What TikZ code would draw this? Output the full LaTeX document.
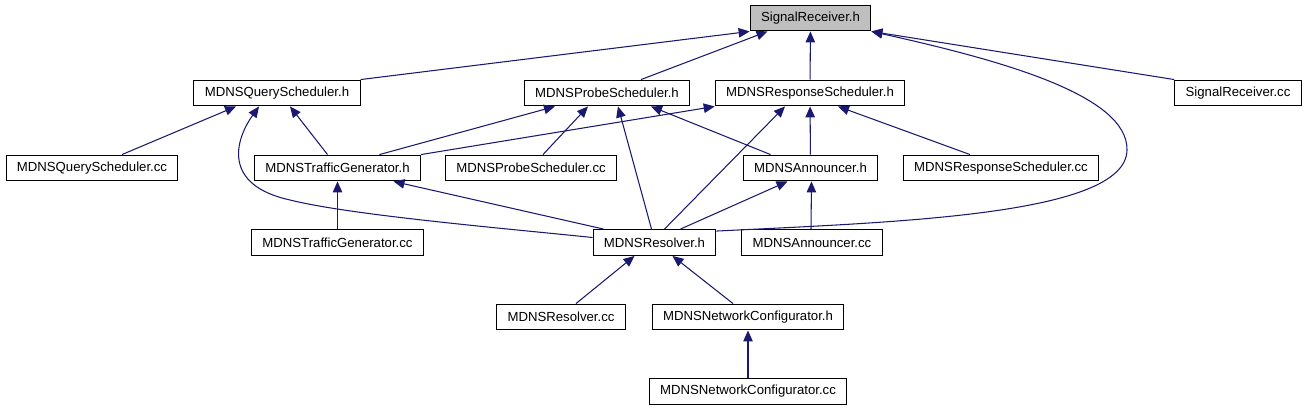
\documentclass[tikz,border=0pt]{standalone}
\usepackage{fontspec}
\setmainfont{Liberation Sans}
\usepackage{tikz}
\usetikzlibrary{arrows.meta,positioning,calc}
\definecolor{edgeblue}{RGB}{25,25,112}
\definecolor{nodegray}{RGB}{191,191,191}
\tikzset{
  file/.style ={rectangle, draw=black, fill=white, line width=0.6pt,
                inner xsep=6.2pt, inner ysep=0pt, minimum height=14.7pt,
                font=\fontsize{7.5}{9}\selectfont},
  dep/.style  ={{Triangle[length=2.2mm, width=1.9mm]}-, line width=0.6pt, draw=edgeblue}
}

\begin{document}
\begin{tikzpicture}[x=0.02cm, y=-0.02cm,
  top/.style={file, fill=nodegray}]
  \useasboundingbox (0,0) rectangle (1308,411);

  % header in focus
  \node[top] (sigh) at (810.5,18) {SignalReceiver.h};

  % first row
  \node[file] (qsh)   at (277,93)    {MDNSQueryScheduler.h};
  \node[file] (psh)   at (607,93)    {MDNSProbeScheduler.h};
  \node[file] (rsh)   at (810,93)    {MDNSResponseScheduler.h};
  \node[file] (sigcc) at (1238,93)   {SignalReceiver.cc};

  % second row
  \node[file] (qscc)  at (92,168)    {MDNSQueryScheduler.cc};
  \node[file] (tgh)   at (337.5,168) {MDNSTrafficGenerator.h};
  \node[file] (pscc)  at (531,168)   {MDNSProbeScheduler.cc};
  \node[file] (anh)   at (810.5,168) {MDNSAnnouncer.h};
  \node[file] (rscc)  at (1001,168)  {MDNSResponseScheduler.cc};

  % third row
  \node[file] (tgcc)  at (337.5,242.5) {MDNSTrafficGenerator.cc};
  \node[file] (resh)  at (654.5,242.5) {MDNSResolver.h};
  \node[file] (ancc)  at (812,242.5)   {MDNSAnnouncer.cc};

  % bottom rows
  \node[file] (rescc) at (561,317)   {MDNSResolver.cc};
  \node[file] (nch)   at (748,317)   {MDNSNetworkConfigurator.h};
  \node[file] (nccc)  at (748,391.5) {MDNSNetworkConfigurator.cc};

  \coordinate (bendr) at (1127,150);
  \coordinate (bendl) at (290,200);

  % into SignalReceiver.h
  \draw[dep] (sigh.south west) -- (qsh.north east);
  \draw[dep] ($(sigh.south)+(-43,0)$) -- ($(psh.north)+(34,0)$);
  \draw[dep] (sigh) -- (rsh);
  \draw[dep] (sigh.south east) -- (sigcc.north west);
  \draw[dep] (sigh.south east) .. controls (1000,60) and (1128,95) .. (bendr)
             .. controls (1126,215) and (900,222) .. ($(resh.north east)+(0,2)$);

  % into the schedulers
  \draw[dep] ($(qsh.south)+(-41,0)$) -- ($(qscc.north)+(30,0)$);
  \draw[dep] ($(qsh.south)+(13,0)$) -- ($(tgh.north)+(-10,0)$);
  \draw[dep] ($(qsh.south)+(-18,0)$) .. controls (235,140) and (222,185) .. (bendl)
             .. controls (350,215) and (500,228) .. ($(resh.west)+(0,-5)$);
  \draw[dep] ($(psh.south)+(-52,0)$) -- ($(tgh.north)+(42,0)$);
  \draw[dep] (rsh.south west) -- (tgh.north east);
  \draw[dep] ($(psh.south)+(-19,0)$) -- ($(pscc.north)+(12,0)$);
  \draw[dep] ($(psh.south)+(11,0)$) -- ($(resh.north)+(-3,0)$);
  \draw[dep] ($(psh.south)+(44,0)$) -- ($(anh.north)+(-40,0)$);
  \draw[dep] ($(rsh.south)+(-25,0)$) -- ($(resh.north)+(10,0)$);
  \draw[dep] (rsh) -- (anh);
  \draw[dep] ($(rsh.south)+(28,0)$) -- ($(rscc.north)+(-31,0)$);

  % lower levels
  \draw[dep] (tgh) -- (tgcc);
  \draw[dep] ($(tgh.south)+(56,0)$) -- ($(resh.north)+(-51,0)$);
  \draw[dep] ($(anh.south)+(-23,0)$) -- ($(resh.north)+(26,0)$);
  \draw[dep] ($(anh.south)+(1,0)$) -- ($(ancc.north)+(-1,0)$);
  \draw[dep] ($(resh.south)+(-20,0)$) -- ($(rescc.north)+(15,0)$);
  \draw[dep] ($(resh.south)+(18,0)$) -- ($(nch.north)+(-15,0)$);
  \draw[dep] (nch) -- (nccc);
\end{tikzpicture}
\end{document}
